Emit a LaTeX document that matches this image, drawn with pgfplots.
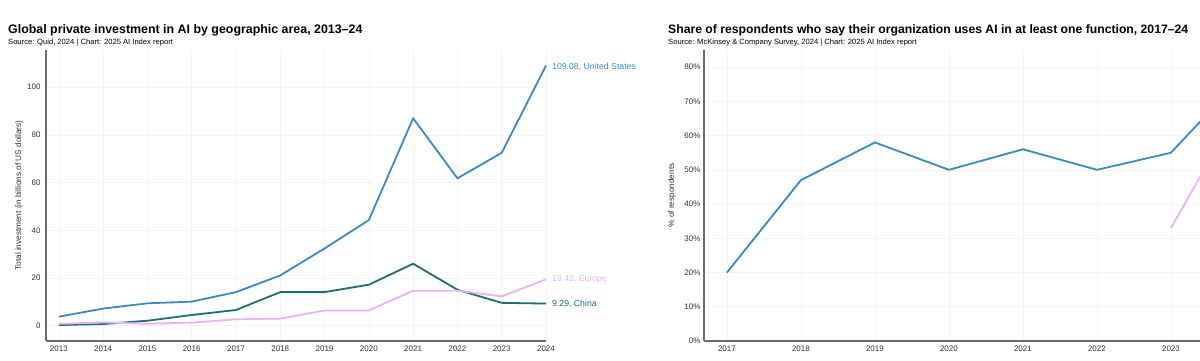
\documentclass[border=0pt]{standalone}
\usepackage{pgfplots}
\pgfplotsset{compat=1.18}
\usepackage{fontspec}
\setmainfont{Liberation Sans}
\definecolor{usblue}{HTML}{3A8BC0}
\definecolor{cnteal}{HTML}{1F6E6E}
\definecolor{eupink}{HTML}{E6B4F2}
\definecolor{gridc}{HTML}{F4F4F4}
\definecolor{axc}{HTML}{6A6A6A}
\definecolor{txt}{HTML}{333333}
\pgfplotsset{
  common/.style={
    scale only axis,
    anchor=south west,
    height=291pt,
    axis lines=left,
    axis line style={axc, line width=1.2pt, -},
    grid=major,
    major grid style={gridc, line width=0.6pt},
    major tick length=0pt,
    tick label style={font=\fontsize{8}{9}\selectfont, text=txt},
    /pgf/number format/assume math mode=true,
    xticklabel style={/pgf/number format/1000 sep={}, yshift=-1pt},
    label style={font=\fontsize{8.2}{9}\selectfont, text=txt},
    every axis plot/.append style={line width=1.8pt, line join=round},
    clip=false,
  }
}
\begin{document}
\begin{tikzpicture}[x=1pt,y=1pt]
\useasboundingbox (0,0) rectangle (1200,360);
\clip (0,0) rectangle (1200,360);
\fill[white] (0,0) rectangle (1200,360);
% Left chart
\node[anchor=base west, inner sep=0pt, font=\bfseries\fontsize{12.4}{14}\selectfont] at (8,327) {Global private investment in AI by geographic area, 2013–24};
\node[anchor=base west, inner sep=0pt, font=\fontsize{7.6}{9}\selectfont] at (8,315.5) {Source: Quid, 2024 | Chart: 2025 AI Index report};
\begin{axis}[common,
  at={(46pt,19pt)}, width=500pt,
  xmin=2012.71, xmax=2024, ymin=-6.4, ymax=115.6,
  xtick={2013,...,2024}, ytick={0,20,40,60,80,100},
  yticklabel style={xshift=-2pt},
  ylabel={Total investment (in billions of US dollars)},
  ylabel style={at={(axis description cs:-0.054,0.5)}, anchor=center},
]
\addplot[usblue] coordinates {(2013,3.8)(2014,7.2)(2015,9.4)(2016,10.1)(2017,14.1)(2018,21.1)(2019,32.4)(2020,44.3)(2021,87.0)(2022,61.8)(2023,72.5)(2024,109.08)};
\addplot[cnteal] coordinates {(2013,0.3)(2014,0.7)(2015,2.1)(2016,4.5)(2017,6.6)(2018,14.1)(2019,14.1)(2020,17.2)(2021,26.0)(2022,15.1)(2023,9.6)(2024,9.29)};
\addplot[eupink] coordinates {(2013,0.8)(2014,1.4)(2015,0.8)(2016,1.3)(2017,2.7)(2018,3.0)(2019,6.4)(2020,6.4)(2021,14.7)(2022,14.7)(2023,12.3)(2024,19.42)};
\node[anchor=west, text=usblue, font=\fontsize{8.7}{9}\selectfont, inner sep=0pt, xshift=6pt, yshift=-1.5pt] at (axis cs:2024,109.08) {109.08, United States};
\node[anchor=west, text=eupink, font=\fontsize{8.7}{9}\selectfont, inner sep=0pt, xshift=6pt] at (axis cs:2024,19.42) {19.42, Europe};
\node[anchor=west, text=cnteal, font=\fontsize{8.7}{9}\selectfont, inner sep=0pt, xshift=6pt] at (axis cs:2024,9.29) {9.29, China};
\end{axis}
% Right chart
\node[anchor=base west, inner sep=0pt, font=\bfseries\fontsize{12.2}{14}\selectfont] at (668,327) {Share of respondents who say their organization uses AI in at least one function, 2017–24};
\node[anchor=base west, inner sep=0pt, font=\fontsize{7.6}{9}\selectfont] at (668,315.5) {Source: McKinsey \& Company Survey, 2024 | Chart: 2025 AI Index report};
\begin{axis}[common,
  at={(704pt,19pt)}, width=541pt,
  xmin=2016.69, xmax=2024, ymin=0, ymax=85,
  xtick={2017,...,2023}, ytick={0,10,...,80},
  extra x ticks={2024}, extra x tick labels={},
  yticklabel={\pgfmathprintnumber{\tick}\%},
  ylabel={\% of respondents},
  ylabel style={at={(axis description cs:-0.059,0.5)}, anchor=center},
]
\addplot[usblue] coordinates {(2017,20)(2018,47)(2019,58)(2020,50)(2021,56)(2022,50)(2023,55)(2024,78)};
\addplot[eupink] coordinates {(2023,33)(2024,71)};
\end{axis}
\end{tikzpicture}
\end{document}
